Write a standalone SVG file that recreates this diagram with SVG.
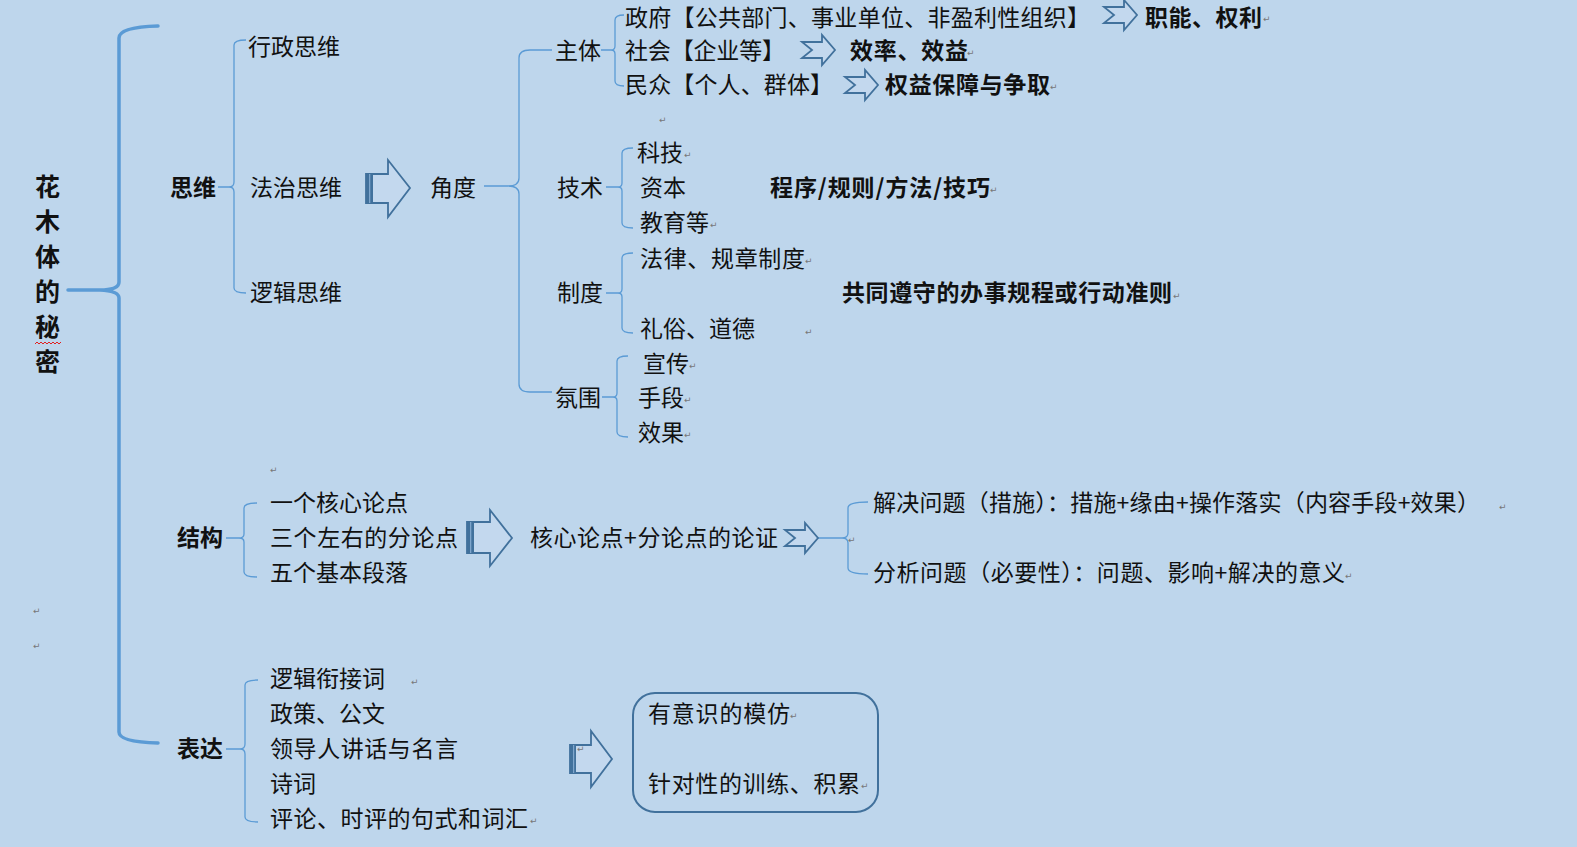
<svg xmlns="http://www.w3.org/2000/svg" width="1577" height="847" viewBox="0 0 1577 847">
<defs>
<style>
text{font-family:"Noto Sans CJK SC","Liberation Serif",sans-serif;font-size:23px;fill:#111;}
.b{font-weight:bold;}
.t{font-size:25px;font-weight:bold;}
.pm{font-family:"DejaVu Sans",sans-serif;font-size:9px;fill:#777;}
.br{fill:none;stroke:#5B9BD5;stroke-width:1.3;}
.big{fill:none;stroke:#5B9BD5;stroke-width:3.5;stroke-linecap:round;}
.ar{fill:#C3D8EE;stroke:#41719C;stroke-width:1.8;stroke-linejoin:miter;}
.st{fill:#41719C;}
.st2{fill:#7FA6CC;}
.box{fill:none;stroke:#41719C;stroke-width:2;}
</style>
<g id="notch"><polygon class="ar" points="0,-8 20,-8 20,-15 33,0 20,15 20,8 0,8 10,0"/></g>
</defs>
<rect width="1577" height="847" fill="#BED6EC"/>

<g id="connectors">
<path class="big" d="M158,26 Q119,27 119,38 L119,282 Q119,290 100,290 L68,290 M100,290 Q119,291 119,298 L119,732 Q119,742 158,743"/>
<path class="br" d="M218,187 L229,187 Q234,187 234,182 L234,45 Q234,40 246,40 M229,187 Q234,187 234,192 L234,288 Q234,293 246,293"/>
<path class="br" d="M484,186 L508,186 Q519,186 519,178 L519,58 Q519,50 530,50 L552,50 M508,186 Q519,186 519,194 L519,384 Q519,392 530,392 L552,392"/>
<path class="br" d="M601,50 L611,50 Q615,50 615,46 L615,20 Q615,15 624,15 M611,50 Q615,50 615,54 L615,81 Q615,86 624,86"/>
<path class="br" d="M606,187 L618,187 Q622,187 622,183 L622,153 Q622,148 633,148 M618,187 Q622,187 622,191 L622,223 Q622,228 633,228"/>
<path class="br" d="M606,293 L618,293 Q622,293 622,289 L622,258 Q622,253 633,253 M618,293 Q622,293 622,297 L622,328 Q622,333 633,333"/>
<path class="br" d="M602,397 L613,397 Q617,397 617,393 L617,361 Q617,356 628,356 M613,397 Q617,397 617,401 L617,432 Q617,437 628,437"/>
<path class="br" d="M226,538 L239,538 Q244,538 244,534 L244,508 Q244,503 257,503 M239,538 Q244,538 244,542 L244,572 Q244,577 257,577"/>
<path class="br" d="M818,538 L842,538 Q848,538 848,533 L848,508 Q848,502 868,502 M842,538 Q848,538 848,543 L848,568 Q848,574 868,574"/>
<path class="br" d="M226,749 L240,749 Q245,749 245,744 L245,685 Q245,680 258,680 M240,749 Q245,749 245,754 L245,817 Q245,822 258,822"/>
</g>

<g id="title">
<text class="t" x="35" y="196">花</text>
<text class="t" x="35" y="231">木</text>
<text class="t" x="35" y="266">体</text>
<text class="t" x="35" y="301">的</text>
<text class="t" x="35" y="336">秘</text>
<text class="t" x="35" y="371">密</text>
<path d="M35,344 l2,-2 l2,2 l2,-2 l2,2 l2,-2 l2,2 l2,-2 l2,2 l2,-2 l2,2 l2,-2 l2,2 l2,-2" fill="none" stroke="#E02020" stroke-width="1"/>
</g>

<g id="node-siwei">
<text class="b" x="170" y="196">思维</text>
<text x="248" y="55">行政思维</text>
<text x="250" y="196">法治思维</text>
<text x="250" y="301">逻辑思维</text>
</g>

<g id="arrow1">
<polygon class="ar" points="366,174 388,174 388,160 410,188 388,217 388,203 366,203"/>
<rect class="st" x="366" y="174" width="7" height="29"/>
<rect class="st2" x="369" y="174" width="1.3" height="29"/>
</g>

<g id="node-jiaodu"><text x="430" y="196">角度</text></g>

<g id="node-zhuti">
<text x="555" y="59">主体</text>
<text x="625" y="26" textLength="465">政府【公共部门、事业单位、非盈利性组织】</text>
<text x="625" y="59" textLength="160">社会【企业等】</text>
<text x="625" y="93" textLength="208">民众【个人、群体】</text>
<use href="#notch" x="1104" y="15"/>
<use href="#notch" x="802" y="50"/>
<use href="#notch" x="845" y="85"/>
<text class="b" x="1145" y="26" textLength="117">职能、权利</text>
<text class="b" x="850" y="59" textLength="118">效率、效益</text>
<text class="b" x="885" y="93" textLength="165">权益保障与争取</text>
</g>

<g id="node-jishu">
<text x="557" y="196">技术</text>
<text x="637" y="161">科技</text>
<text x="640" y="196">资本</text>
<text x="640" y="231">教育等</text>
<text class="b" x="770" y="196" textLength="220">程序/规则/方法/技巧</text>
</g>

<g id="node-zhidu">
<text x="557" y="301">制度</text>
<text x="640" y="267" textLength="165">法律、规章制度</text>
<text x="640" y="337">礼俗、道德</text>
<text class="b" x="842" y="301" textLength="330">共同遵守的办事规程或行动准则</text>
</g>

<g id="node-fenwei">
<text x="555" y="406">氛围</text>
<text x="643" y="372">宣传</text>
<text x="638" y="406">手段</text>
<text x="638" y="441">效果</text>
</g>

<g id="node-jiegou">
<text class="b" x="177" y="546">结构</text>
<text x="270" y="511">一个核心论点</text>
<text x="270" y="546" textLength="188">三个左右的分论点</text>
<text x="270" y="581">五个基本段落</text>
</g>

<g id="arrow2">
<polygon class="ar" points="467,522 490,522 490,510 512,538 490,566 490,553 467,553"/>
<rect class="st" x="467" y="522" width="7" height="31"/>
<rect class="st2" x="470" y="522" width="1.3" height="31"/>
</g>

<g id="node-lunzheng">
<text x="530" y="546" textLength="248">核心论点+分论点的论证</text>
<use href="#notch" x="785" y="538"/>
<text x="873" y="511" textLength="607">解决问题（措施）：措施+缘由+操作落实（内容手段+效果）</text>
<text x="873" y="581" textLength="472">分析问题（必要性）：问题、影响+解决的意义</text>
</g>

<g id="node-biaoda">
<text class="b" x="177" y="757">表达</text>
<text x="270" y="687">逻辑衔接词</text>
<text x="270" y="722">政策、公文</text>
<text x="270" y="757" textLength="188">领导人讲话与名言</text>
<text x="270" y="792">诗词</text>
<text x="270" y="827" textLength="258">评论、时评的句式和词汇</text>
</g>

<g id="arrow3">
<polygon class="ar" points="570,745 591,745 591,731 612,759 591,787 591,773 570,773"/>
<rect class="st" x="570" y="745" width="6" height="28"/>
<rect class="st2" x="573" y="745" width="1.2" height="28"/>
</g>

<g id="node-box">
<rect class="box" x="633" y="693" width="245" height="119" rx="22"/>
<text x="648" y="722" textLength="142">有意识的模仿</text>
<text x="648" y="792" textLength="212">针对性的训练、积累</text>
</g>

<g id="marks">
<text class="pm" x="1263" y="22">↵</text>
<text class="pm" x="967" y="56">↵</text>
<text class="pm" x="1050" y="90">↵</text>
<text class="pm" x="659" y="123">↵</text>
<text class="pm" x="684" y="158">↵</text>
<text class="pm" x="990" y="193">↵</text>
<text class="pm" x="710" y="228">↵</text>
<text class="pm" x="805" y="264">↵</text>
<text class="pm" x="1173" y="299">↵</text>
<text class="pm" x="805" y="335">↵</text>
<text class="pm" x="689" y="369">↵</text>
<text class="pm" x="684" y="403">↵</text>
<text class="pm" x="684" y="438">↵</text>
<text class="pm" x="270" y="473">↵</text>
<text class="pm" x="1499" y="510">↵</text>
<text class="pm" x="848" y="543">↵</text>
<text class="pm" x="1345" y="579">↵</text>
<text class="pm" x="33" y="614">↵</text>
<text class="pm" x="33" y="649">↵</text>
<text class="pm" x="411" y="685">↵</text>
<text class="pm" x="577" y="752">↵</text>
<text class="pm" x="790" y="719">↵</text>
<text class="pm" x="861" y="789">↵</text>
<text class="pm" x="530" y="824">↵</text>
</g>
</svg>
